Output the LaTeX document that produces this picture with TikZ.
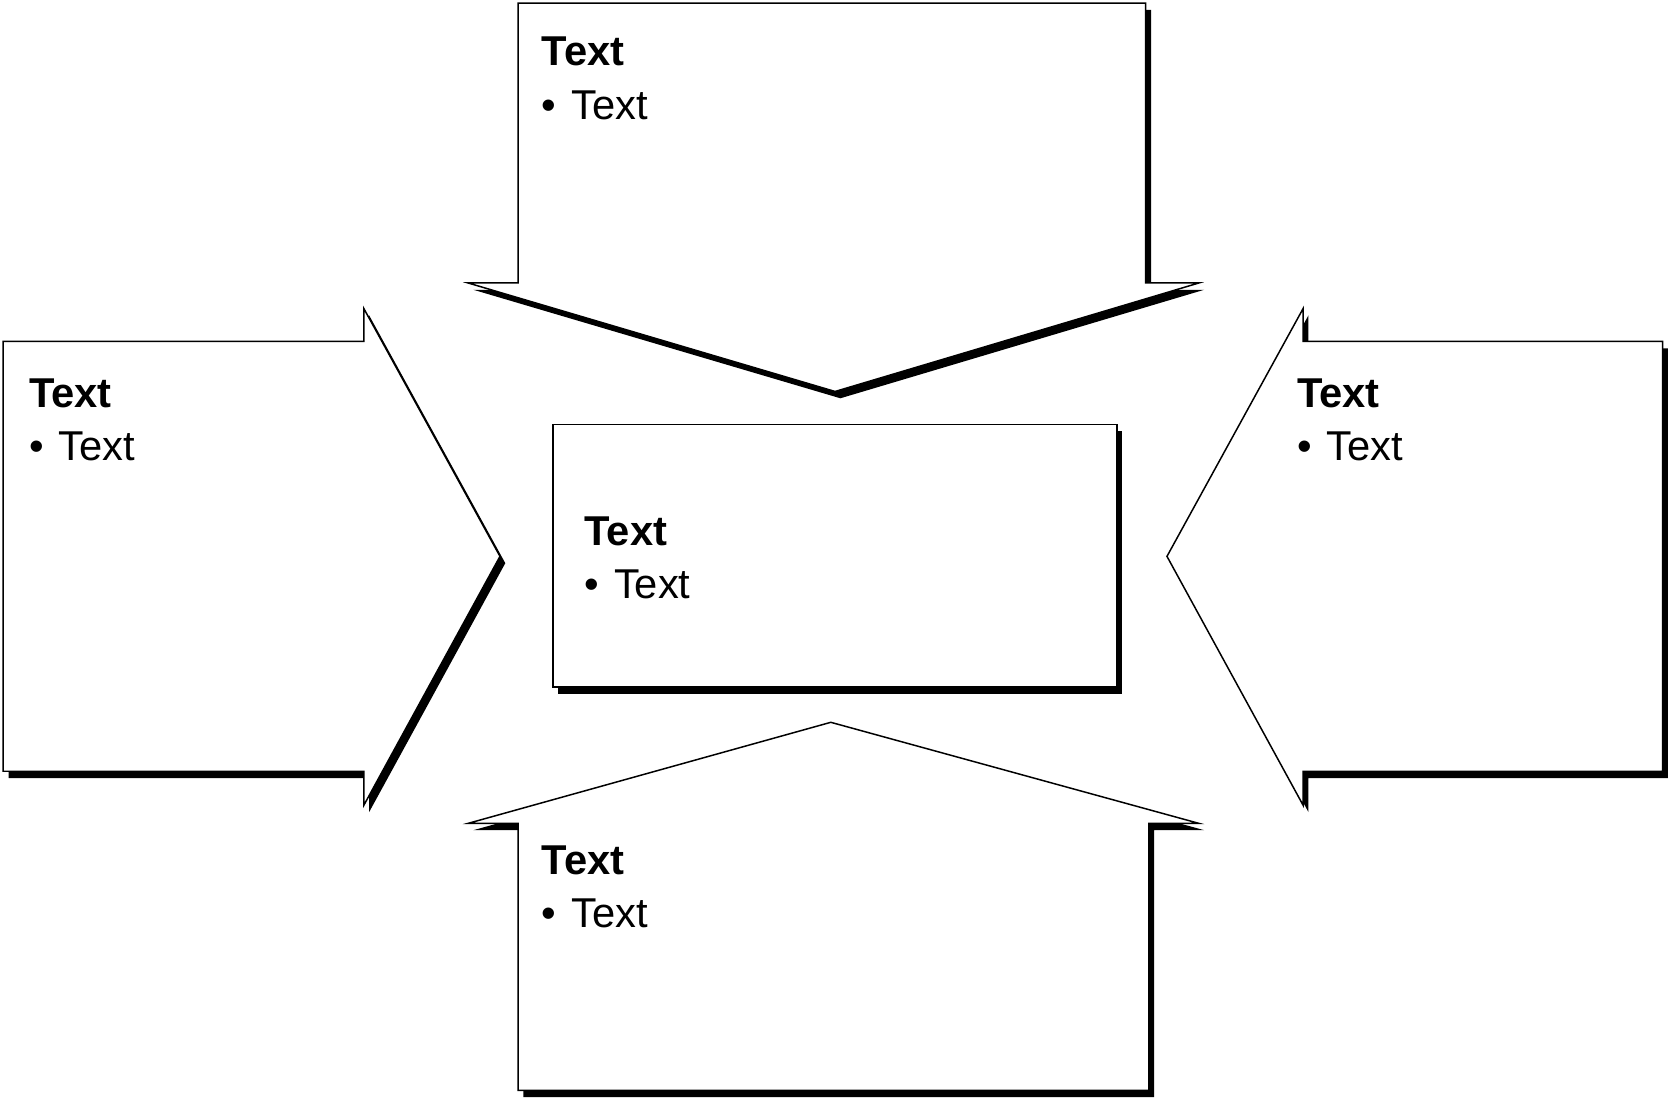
\documentclass[tikz,border=0pt]{standalone}
\usepackage{fontspec}
\setmainfont{Liberation Sans}
\usepackage{tikz}
\usetikzlibrary{positioning,shadows}
\newcommand{\panellabel}[4]{%
  \node[headlbl] (#1-head) at (#2) {#3};
  \node[itemlbl] (#1-item) at ([yshift=-25pt]#1-head.base west)
    {\textbullet\hspace{0.36em}#4};}
\tikzset{
  panel/.style={draw=black,line width=0.7pt,fill=white,
    drop shadow={shadow xshift=2.5pt,shadow yshift=-3.2pt,fill=black,opacity=1}},
  headlbl/.style={font=\fontsize{19.6}{23}\selectfont\bfseries,inner sep=0pt,
    anchor=base west},
  itemlbl/.style={font=\fontsize{19.6}{23}\selectfont,inner sep=0pt,
    anchor=base west},
}

\begin{document}
\begin{tikzpicture}[x=0.5pt,y=-0.5pt]
  \useasboundingbox (0,0) rectangle (1568,1033);
  % arrows pointing at the middle box
  \draw[panel] (487,3) -- (1077,3) -- (1077,266) -- (1127,266) -- (785,368)
    -- (440,266) -- (487,266) -- cycle;
  \draw[panel] (3,321) -- (342,321) -- (342,290) -- (470,523) -- (342,757)
    -- (342,725) -- (3,725) -- cycle;
  \draw[panel] (1563,321) -- (1225,321) -- (1225,290) -- (1097,523)
    -- (1225,757) -- (1225,725) -- (1563,725) -- cycle;
  \draw[panel] (487,1025) -- (1080,1025) -- (1080,774) -- (1127,774)
    -- (781,679) -- (440,774) -- (487,774) -- cycle;
  \draw[panel] (520,399) rectangle (1050,646);
  % labels
  \panellabel{top}{509,62}{Text}{Text}
  \panellabel{left}{27,383}{Text}{Text}
  \panellabel{right}{1219,383}{Text}{Text}
  \panellabel{mid}{549,513}{Text}{Text}
  \panellabel{bot}{509,822}{Text}{Text}
\end{tikzpicture}
\end{document}
